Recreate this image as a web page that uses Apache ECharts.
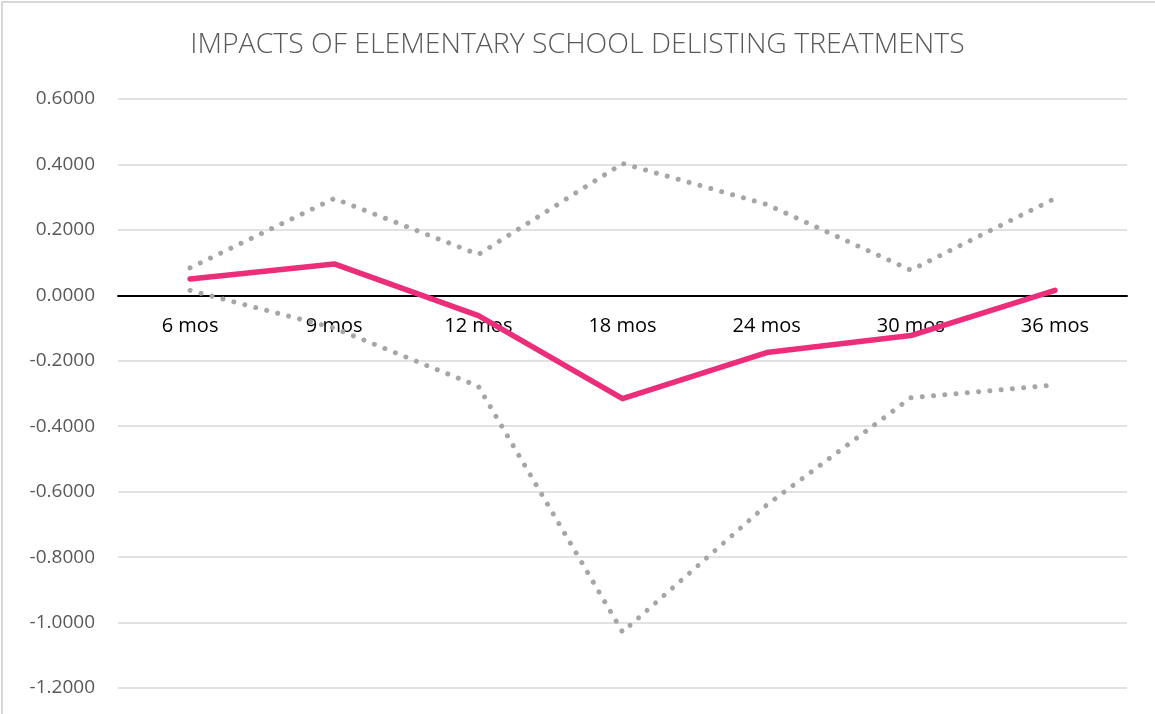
<!DOCTYPE html>
<html>
<head>
<meta charset="utf-8">
<script src="https://cdn.jsdelivr.net/npm/echarts@6/dist/echarts.min.js"></script>
<style>
  html, body { margin: 0; padding: 0; background: #fff; }
  #chart { width: 1155px; height: 714px; }
</style>
</head>
<body>
<div id="chart"></div>
<script>
const titleText = 'IMPACTS OF ELEMENTARY SCHOOL DELISTING TREATMENTS';
const categories = ['6 mos', '9 mos', '12 mos', '18 mos', '24 mos', '30 mos', '36 mos'];
// point estimate
const impact = [0.050, 0.096, -0.062, -0.316, -0.175, -0.123, 0.015];
// confidence bounds
const upperBound = [0.084, 0.296, 0.125, 0.403, 0.278, 0.077, 0.296];
const lowerBound = [0.015, -0.100, -0.278, -1.029, -0.641, -0.313, -0.274];

const yMin = -1.2, yMax = 0.6, yStep = 0.2;
const gridTop = 99, gridBottom = 26;
const chartHeight = 714;
const plotHeight = chartHeight - gridTop - gridBottom;
// category axis sits on the zero line: shift it up from the plot's bottom edge
const zeroOffset = -((0 - yMin) / (yMax - yMin)) * plotHeight;

const chart = echarts.init(document.getElementById('chart'));

const dotted = {
  color: '#A6A6A6',
  width: 5,
  type: [0.01, 11.3],
  cap: 'round'
};

chart.setOption({
  animation: false,
  backgroundColor: '#ffffff',
  graphic: [{
    type: 'rect',
    shape: { x: 2, y: 2, width: 1200, height: 800 },
    style: { fill: 'none', stroke: '#d9d9d9', lineWidth: 2 },
    silent: true
  }],
  title: {
    text: titleText,
    left: 'center',
    top: 26,
    textStyle: {
      fontFamily: 'Open Sans',
      fontWeight: 300,
      fontSize: 28.4,
      color: '#595959'
    }
  },
  grid: { left: 118, right: 28, top: gridTop, bottom: gridBottom, outerBoundsMode: 'none' },
  xAxis: {
    type: 'category',
    data: categories,
    boundaryGap: true,
    offset: zeroOffset,
    axisLine: { onZero: false, lineStyle: { color: '#000', width: 2 } },
    axisTick: { show: false },
    axisLabel: {
      margin: 21,
      fontFamily: 'Open Sans',
      fontSize: 20,
      color: '#000'
    },
    splitLine: { show: false }
  },
  yAxis: {
    type: 'value',
    min: yMin,
    max: yMax,
    interval: yStep,
    axisLine: { show: false },
    axisTick: { show: false },
    axisLabel: {
      margin: 23,
      fontFamily: 'Open Sans',
      fontSize: 19,
      color: '#595959',
      formatter: v => v.toFixed(4)
    },
    splitLine: { lineStyle: { color: '#d9d9d9', width: 1.5 } }
  },
  series: [
    {
      name: 'Upper',
      type: 'line',
      data: upperBound,
      symbol: 'none',
      lineStyle: dotted,
      z: 2
    },
    {
      name: 'Lower',
      type: 'line',
      data: lowerBound,
      symbol: 'none',
      lineStyle: dotted,
      z: 2
    },
    {
      name: 'Impact',
      type: 'line',
      data: impact,
      symbol: 'none',
      lineStyle: { color: '#EC2D7A', width: 5.5, cap: 'round', join: 'round' },
      z: 3
    }
  ]
});
</script>
</body>
</html>
